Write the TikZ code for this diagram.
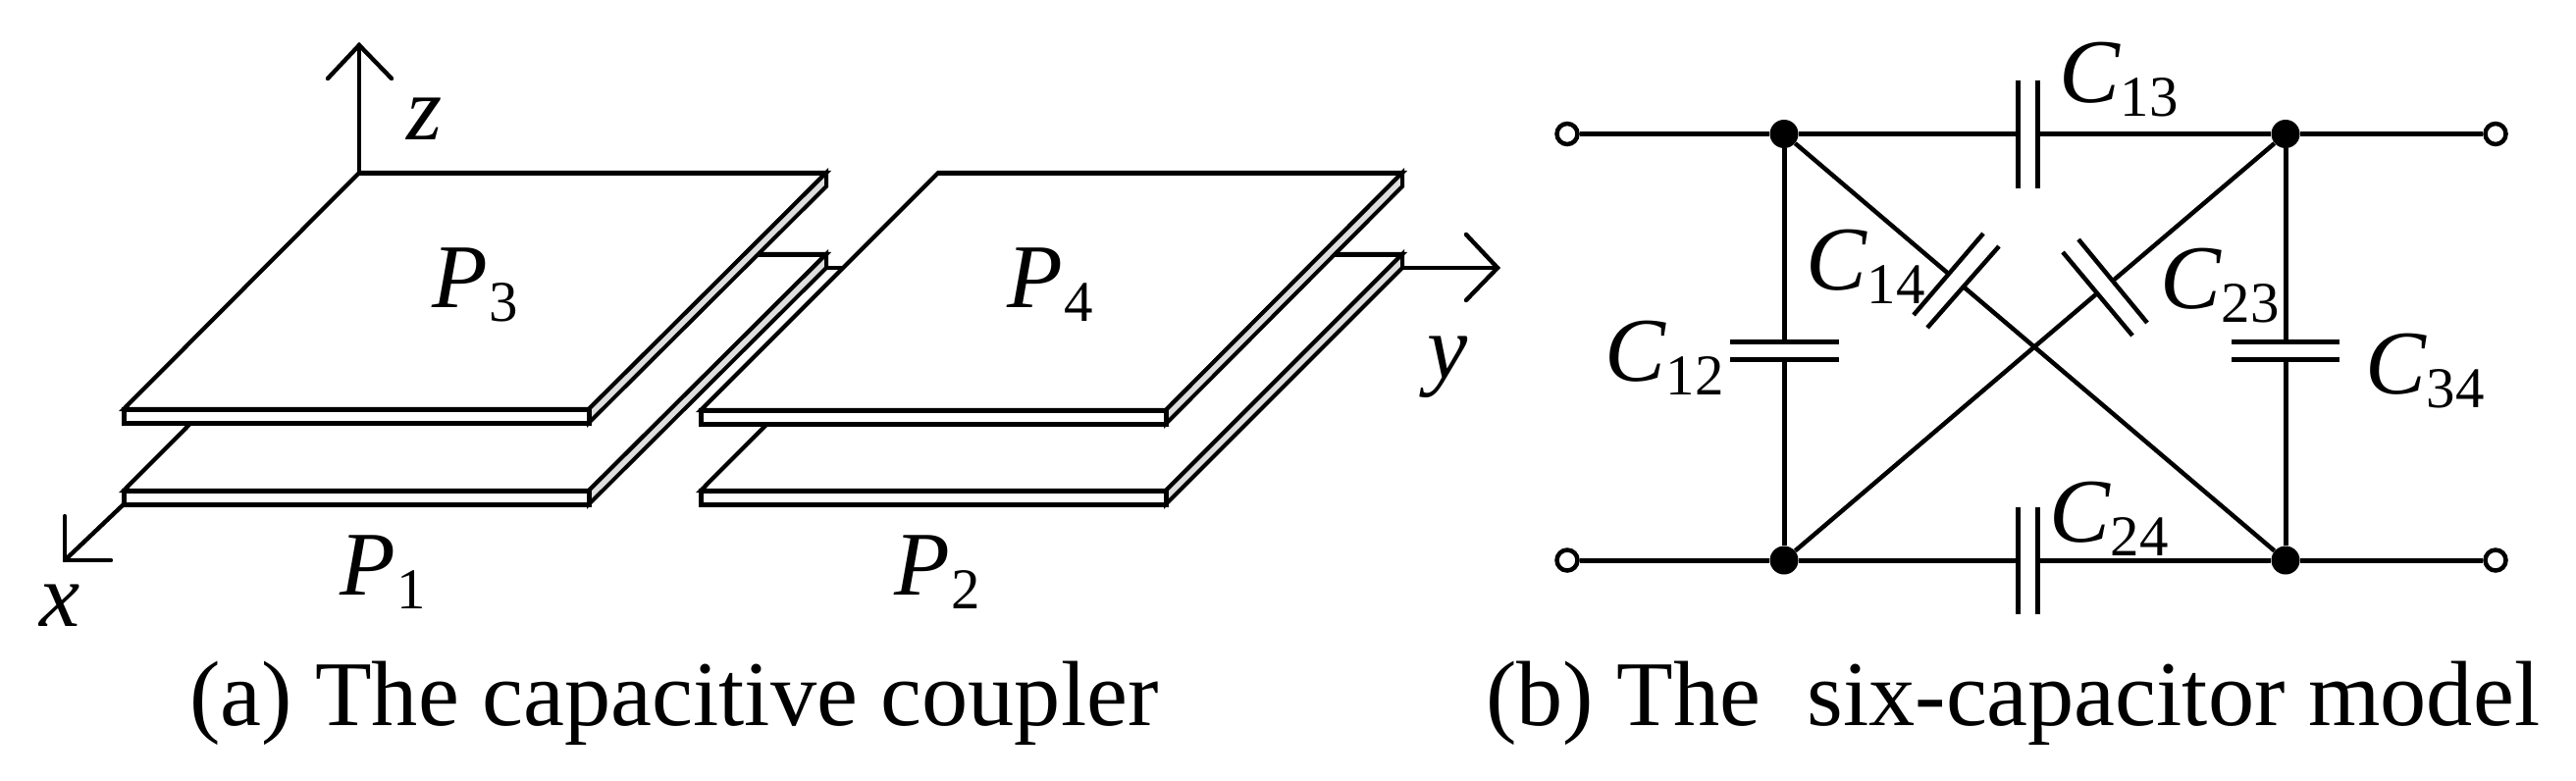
\documentclass[tikz,border=0pt]{standalone}
\usepackage{fontspec}
\setmainfont{Liberation Serif}
\newcommand{\mainsz}{\fontsize{52.8pt}{60pt}\selectfont}
\newcommand{\subsz}{\fontsize{33.5pt}{38pt}\selectfont}
\newcommand{\capsz}{\fontsize{53.7pt}{60pt}\selectfont}
\newcommand{\labsub}[3]{\mainsz\textit{#1}\kern#3pt\raisebox{-8pt}{\subsz #2}}
\tikzset{
  ink/.style={draw=black,line width=0.088cm,line cap=round,line join=miter},
  edge/.style={draw=black,line width=0.1cm,line join=miter},
  sidewall/.style={draw=black,line width=0.08cm,fill=black!13,line join=miter},
  surface/.style={draw=black,line width=0.085cm,fill=white,line join=miter},
  wire/.style={draw=black,line width=0.1cm},
  diag/.style={draw=black,line width=0.09cm},
  plateline/.style={draw=black,line width=0.1cm},
  junction/.style={circle,fill=black,inner sep=0pt,minimum size=0.58cm},
  terminal/.style={circle,draw=black,fill=white,line width=0.09cm,inner sep=0pt,minimum size=0.42cm},
  lab/.style={anchor=base west,inner sep=0pt,outer sep=0pt},
}
% #1 front-left x, #2 front top y, #3 front-right x, #4 back-left x, #5 back-right x, #6 back y
\newcommand{\platebox}[6]{
  \path[surface] (#1,#2) -- (#3,#2) -- (#5,#6) -- (#4,#6) -- cycle;
  \path[sidewall] (#3,#2) -- (#5,#6) -- (#5,#6+14) -- (#3,#2+14) -- cycle;
  \path[edge,fill=white] (#1,#2) rectangle (#3,#2+14);
  \path[edge] (#4,#6) -- (#5,#6);
}
\begin{document}
\begin{tikzpicture}[x=0.02cm,y=-0.02cm]
\useasboundingbox (0,0) rectangle (2625,795);
\fill[white] (0,0) rectangle (2625,795);

% axes of the coupler
\coordinate (zfoot) at (366,176);
\coordinate (ztip) at (366,46);
\coordinate (zl) at (334,80);
\coordinate (zr) at (399,80);
\coordinate (xfoot) at (126,514);
\coordinate (xtip) at (66,571);
\coordinate (xl) at (66,526);
\coordinate (xr) at (113,571);
\coordinate (yfoot) at (842,273);
\coordinate (ytip) at (1526,273);
\coordinate (yl) at (1494,239);
\coordinate (yr) at (1494,306);
\draw[ink] (xfoot) -- (xtip);
\draw[ink] (xl) -- (xtip) -- (xr);
\draw[ink] (yfoot) -- (ytip);
\draw[ink] (yl) -- (ytip) -- (yr);
\draw[ink] (zfoot) -- (ztip);
\draw[ink] (zl) -- (ztip) -- (zr);

% plates
\platebox{126}{500}{600}{366}{842}{259}
\platebox{714}{500}{1188}{954}{1429}{259}
\platebox{126}{417}{600}{366}{842}{176}
\platebox{714}{418}{1188}{956}{1429}{176}

\node[lab] (lz) at (414,142) {\mainsz\textit{z}};
\node[lab] (lx) at (40,638) {\mainsz\textit{x}};
\node[lab] (ly) at (1454,385) {\mainsz\textit{y}};
\node[lab] (lp3) at (440,313) {\labsub{P}{3}{1}};
\node[lab] (lp4) at (1026,313) {\labsub{P}{4}{1}};
\node[lab] (lp1) at (346,606) {\labsub{P}{1}{1}};
\node[lab] (lp2) at (911,606) {\labsub{P}{2}{1}};

\node[lab] (capa) at (193,739) {\capsz (a) The capacitive coupler};
\node[lab] (capb) at (1514,739) {\capsz (b) The\ \ six-capacitor model};

% circuit
\node[terminal] (t1) at (1597,136.5) {};
\node[terminal] (t2) at (2543,136.5) {};
\node[terminal] (t3) at (1597,571) {};
\node[terminal] (t4) at (2543,571) {};
\node[junction] (tl) at (1818,136.5) {};
\node[junction] (tr) at (2329,136.5) {};
\node[junction] (bl) at (1818,571) {};
\node[junction] (br) at (2329,571) {};

\draw[wire] (t1) -- (tl);
\draw[wire] (tr) -- (t2);
\draw[wire] (t3) -- (bl);
\draw[wire] (br) -- (t4);

% C13
\coordinate (c13a) at (2056,136.5); \coordinate (c13b) at (2076,136.5);
\draw[wire] (tl) -- (c13a); \draw[wire] (c13b) -- (tr);
\draw[plateline] (2056,82) -- (2056,192);
\draw[plateline] (2076,82) -- (2076,192);
% C24
\coordinate (c24a) at (2056,571); \coordinate (c24b) at (2076,571);
\draw[wire] (bl) -- (c24a); \draw[wire] (c24b) -- (br);
\draw[plateline] (2056,517) -- (2056,626);
\draw[plateline] (2076,517) -- (2076,626);
% C12
\coordinate (c12a) at (1818,348); \coordinate (c12b) at (1818,366);
\draw[wire] (tl) -- (c12a); \draw[wire] (c12b) -- (bl);
\draw[plateline] (1763,348) -- (1874,348);
\draw[plateline] (1763,366) -- (1874,366);
% C34
\coordinate (c34a) at (2329,348); \coordinate (c34b) at (2329,366);
\draw[wire] (tr) -- (c34a); \draw[wire] (c34b) -- (br);
\draw[plateline] (2274,348) -- (2384,348);
\draw[plateline] (2274,366) -- (2384,366);
% C14
\coordinate (c14a) at (1985.5,279); \coordinate (c14b) at (2000.5,292);
\draw[diag] (tl) -- (c14a); \draw[diag] (c14b) -- (br);
\draw[diag] (2021,238) -- (1950,321);
\draw[diag] (2037,251) -- (1964,334);
% C23
\coordinate (c23a) at (2152,287); \coordinate (c23b) at (2137,299);
\draw[diag] (tr) -- (c23a); \draw[diag] (c23b) -- (bl);
\draw[diag] (2118,244) -- (2188,329);
\draw[diag] (2102,257) -- (2173,342);

\node[lab] (lc13) at (2098,104) {\labsub{C}{13}{0}};
\node[lab] (lc24) at (2088,552) {\labsub{C}{24}{0}};
\node[lab] (lc14) at (1840,295) {\labsub{C}{14}{0}};
\node[lab] (lc23) at (2201,314.5) {\labsub{C}{23}{0}};
\node[lab] (lc12) at (1635,388) {\labsub{C}{12}{0}};
\node[lab] (lc34) at (2410,401) {\labsub{C}{34}{0}};
\end{tikzpicture}
\end{document}
